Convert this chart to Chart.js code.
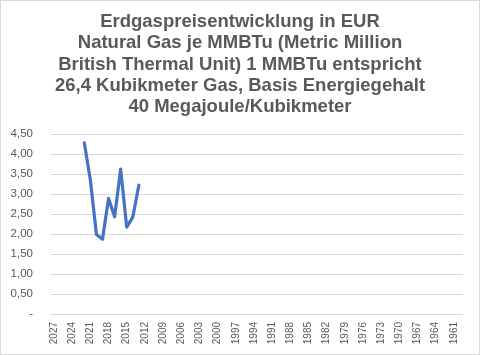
<!DOCTYPE html>
<html><head><meta charset="utf-8">
<script src="https://cdn.jsdelivr.net/npm/chart.js@4/dist/chart.umd.min.js"></script>
<style>html,body{margin:0;padding:0;background:#fff}#wrap{width:480px;height:355px}</style>
</head><body><div id="wrap"><canvas id="c" width="480" height="355"></canvas></div>
<script>
const titleLines = ["Erdgaspreisentwicklung in EUR","Natural Gas je MMBTu (Metric Million","British Thermal Unit) 1 MMBTu entspricht","26,4 Kubikmeter Gas, Basis Energiegehalt","40 Megajoule/Kubikmeter"];
const years = [];
for (let y = 2027; y >= 1960; y--) years.push(String(y));
const dataYears = ["2022","2021","2020","2019","2018","2017","2016","2015","2014","2013"];
const dataValues = [4.28, 3.35, 1.99, 1.87, 2.89, 2.43, 3.62, 2.17, 2.42, 3.22];
const yMin = 0, yMax = 4.5, yStep = 0.5;

const series = years.map(y => { const i = dataYears.indexOf(y); return i >= 0 ? dataValues[i] : null; });
const FONT = "'Liberation Sans', Arial, sans-serif";
const decoPlugin = { id:'deco', afterDraw(ch){ const c=ch.ctx; c.save();
  c.strokeStyle='#D9D9D9'; c.lineWidth=1; c.strokeRect(0.5,0.5,479,354);
  c.fillStyle='#595959'; c.font='bold 18.5px ' + FONT; c.textAlign='center'; c.textBaseline='middle';
  titleLines.forEach((t,i)=> c.fillText(t, 240, 22 + i*21.3));
  c.restore(); } };
new Chart(document.getElementById('c'), {
  type:'line',
  data:{ labels: years, datasets:[{ data: series, borderColor:'#4472C4', borderWidth:3.2, pointRadius:0, tension:0, spanGaps:false, fill:false, borderJoinStyle:'round', borderCapStyle:'round' }]},
  options:{
    responsive:false, animation:false,
    layout:{ padding:{ left:0, right:15, top:134, bottom:7 } },
    plugins:{ legend:{display:false}, tooltip:{enabled:false}, title:{display:false} },
    scales:{
      x:{ offset:true, grid:{display:false, tickLength:0}, border:{display:false},
        ticks:{ autoSkip:false, maxRotation:90, minRotation:90, color:'#595959', font:{family:FONT, size:10}, padding:8,
          callback:(v,i)=> i%3===0 ? years[i] : '' },
        afterFit(s){ s.height = 34; } },
      y:{ min:yMin, max:yMax, grid:{color:'#D9D9D9', drawTicks:false}, border:{display:false},
        ticks:{ stepSize:yStep, color:'#595959', font:{family:FONT, size:11.5}, padding:18,
          callback:v=> v===0 ? '-' : v.toFixed(2).replace('.',',') },
        afterFit(s){ s.width = 51; } }
    }
  },
  plugins:[decoPlugin]
});
</script></body></html>
